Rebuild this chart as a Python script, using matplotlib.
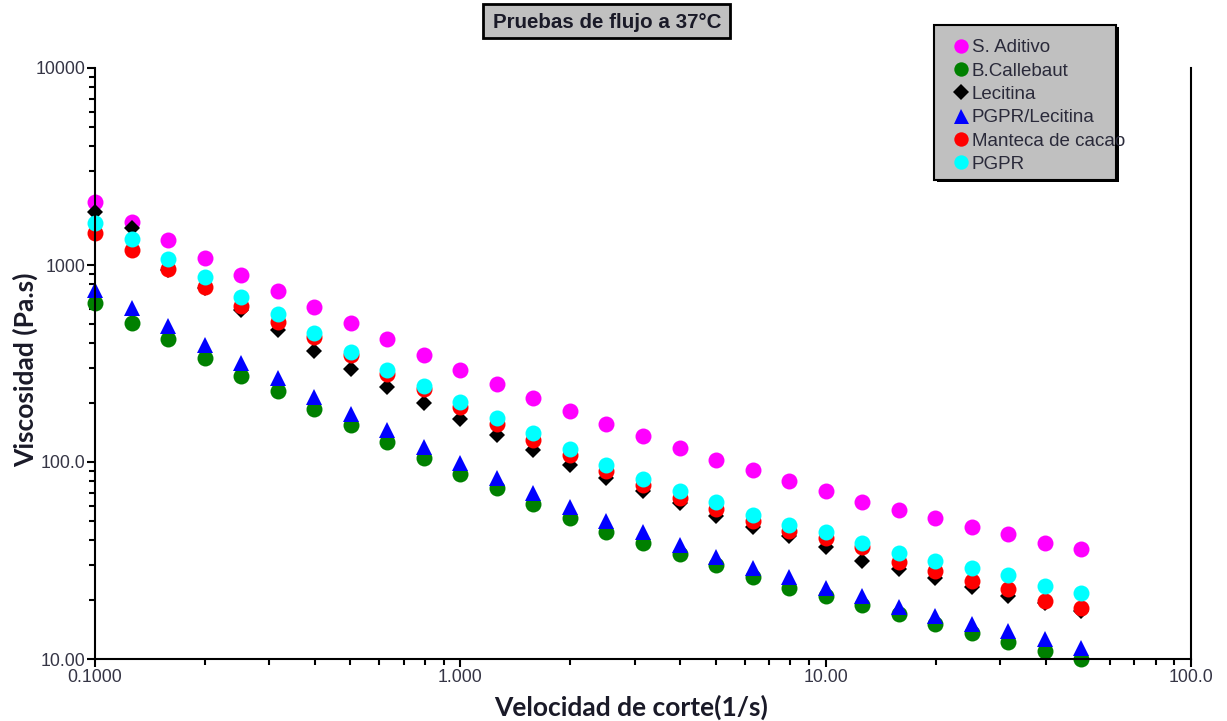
import numpy as np
import matplotlib
matplotlib.use('Agg')
import matplotlib.pyplot as plt
from matplotlib.ticker import LogLocator, NullFormatter
from matplotlib.patches import Rectangle

plt.rcParams['font.family'] = ['Liberation Sans', 'DejaVu Sans']

# shear rate (1/s), 10 points per decade
shear = [0.1, 0.1259, 0.1585, 0.1995, 0.2512, 0.3162, 0.3981, 0.5012, 0.631, 0.7943,
         1.0, 1.259, 1.585, 1.995, 2.512, 3.162, 3.981, 5.012, 6.31, 7.943,
         10.0, 12.59, 15.85, 19.95, 25.12, 31.62, 39.81, 50.12]

# viscosity (Pa.s)
s_aditivo = [2080, 1650, 1340, 1090, 890, 740, 612, 508, 421, 349,
             293, 249, 211, 181, 156, 135, 118, 102, 91, 80,
             71, 63, 57, 52, 47, 43, 39, 36]
callebaut = [642, 508, 421, 337, 273, 229, 186, 154, 126, 105,
             87, 74, 61, 52, 44, 39, 34, 30, 26, 23,
             21, 18.7, 17, 15, 13.6, 12.2, 11, 10]
lecitina = [1858, 1542, 940, 760, 592, 468, 366, 297, 240, 199,
            165, 137, 115, 97, 83, 71, 62, 53, 47, 42,
            37, 31.6, 28.6, 25.8, 23.3, 21, 19.3, 17.6]
pgpr_lec = [747, 606, 490, 392, 318, 267, 214, 175, 145, 119,
            99, 83, 70, 59, 50, 44, 38, 33, 29, 26,
            23, 21, 18.3, 16.6, 15.1, 13.9, 12.6, 11.4]
manteca = [1452, 1191, 955, 773, 619, 514, 431, 349, 281, 236,
           190, 156, 130, 108, 90, 76, 66, 58, 50, 44.5,
           41, 37, 31, 28, 25, 22.6, 19.6, 18.2]
pgpr = [1634, 1355, 1072, 869, 688, 564, 452, 362, 293, 243,
        202, 167, 140, 116, 97, 82, 71, 63, 54, 48,
        44, 39, 34.5, 31.6, 29, 26.6, 23.5, 21.7]

series = [
    ('S. Aditivo', s_aditivo, 'o', '#ff00ff', 11.5),
    ('B.Callebaut', callebaut, 'o', '#008000', 11.5),
    ('Lecitina', lecitina, 'D', '#000000', 8.5),
    ('PGPR/Lecitina', pgpr_lec, '^', '#0000ff', 12),
    ('Manteca de cacao', manteca, 'o', '#ff0000', 11.5),
    ('PGPR', pgpr, 'o', '#00ffff', 11.5),
]

W, H = 1227, 721
fig = plt.figure(figsize=(12.27, 7.21), dpi=100)
ax = fig.add_axes([95 / W, 1 - 659 / H, 1096 / W, 591 / H])

for name, vals, mk, col, ms in series:
    ax.plot(shear, vals, linestyle='none', marker=mk, color=col,
            markersize=ms, markeredgewidth=0, label=name, clip_on=False)

ax.set_xscale('log')
ax.set_yscale('log')
ax.set_xlim(0.1, 100)
ax.set_ylim(10, 10000)

ax.set_xticks([0.1, 1, 10, 100], ['0.1000', '1.000', '10.00', '100.0'])
ax.set_yticks([10, 100, 1000, 10000], ['10.00', '100.0', '1000', '10000'])
ax.xaxis.set_minor_locator(LogLocator(base=10, subs=np.arange(2, 10)))
ax.yaxis.set_minor_locator(LogLocator(base=10, subs=np.arange(2, 10)))
ax.xaxis.set_minor_formatter(NullFormatter())
ax.yaxis.set_minor_formatter(NullFormatter())

ax.tick_params(which='major', length=6, width=1.5, labelsize=12.8,
               labelcolor='#353545', pad=1)
ax.tick_params(which='minor', length=4, width=1.5)
ax.spines['top'].set_visible(False)
for s in ['left', 'bottom', 'right']:
    ax.spines[s].set_linewidth(1.5)

ax.set_xlabel('Velocidad de corte(1/s)', fontsize=19, fontweight='bold',
              family=['Lato', 'DejaVu Sans'], color='#1a1a28', va='center')
ax.xaxis.set_label_coords((631 - 95) / 1096, (659 - 707) / 591)
ax.set_ylabel('Viscosidad (Pa.s)', fontsize=19, fontweight='bold',
              family=['Lato', 'DejaVu Sans'], color='#1a1a28', va='center')
ax.yaxis.set_label_coords((25 - 95) / 1096, (659 - 370) / 591)

# title box
fig.add_artist(Rectangle((483 / W, 1 - 38 / H), 247 / W, 34 / H,
                         transform=fig.transFigure, facecolor='#c0c0c0',
                         edgecolor='black', linewidth=2))
fig.text(607 / W, 1 - 22 / H, 'Pruebas de flujo a 37°C', ha='center',
         va='center', fontsize=14.8, fontweight='bold', color='#1a1a28')

# legend box with a small shadow on right/bottom
fig.add_artist(Rectangle((937 / W, 1 - 182 / H), 182 / W, 155 / H,
                         transform=fig.transFigure, facecolor='black',
                         edgecolor='none'))
fig.add_artist(Rectangle((934 / W, 1 - 180 / H), 182 / W, 155 / H,
                         transform=fig.transFigure, facecolor='#c0c0c0',
                         edgecolor='black', linewidth=1.5))
handles, labels = ax.get_legend_handles_labels()
leg = fig.legend(handles, labels, loc='upper left',
                 bbox_to_anchor=(938 / W, 1 - 26 / H), frameon=False,
                 fontsize=13.5, handletextpad=0.1, handlelength=1.0,
                 labelspacing=0.33, borderpad=0.2, markerscale=0.9)
leg.set_zorder(10)
for t in leg.get_texts():
    t.set_color('#2a2a3a')

fig.savefig('out.png', dpi=100)
